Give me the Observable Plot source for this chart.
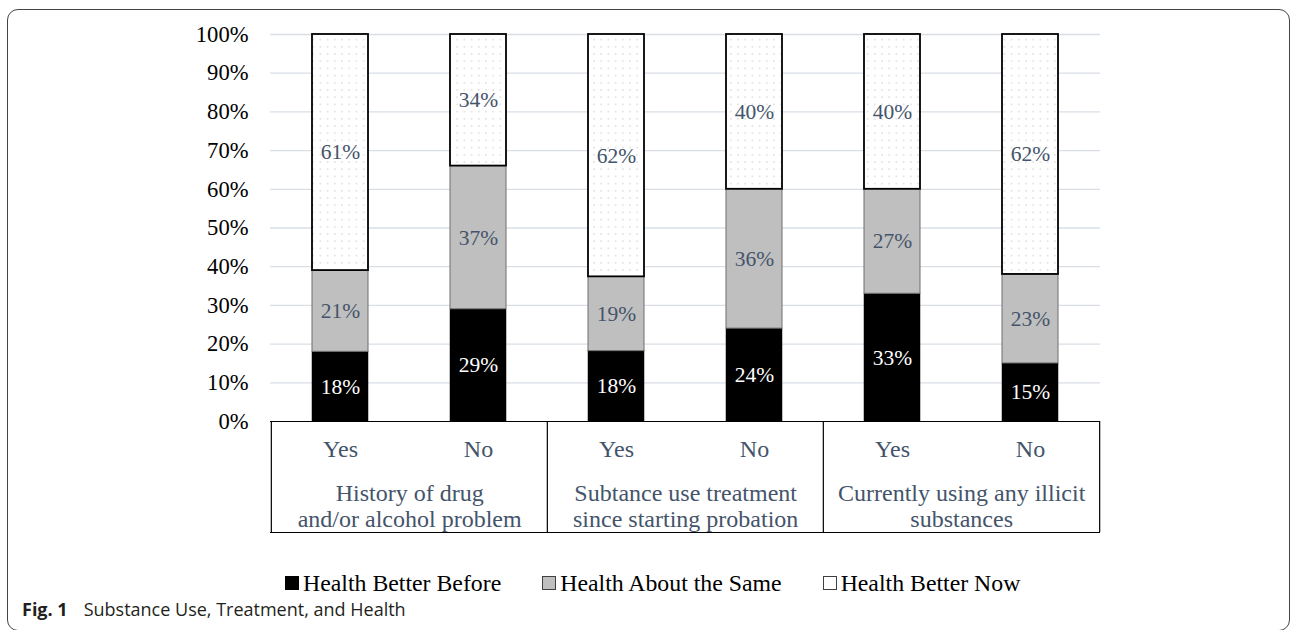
<!DOCTYPE html>
<html>
<head>
<meta charset="utf-8">
<script src="https://cdn.jsdelivr.net/npm/d3@7"></script>
<script src="https://cdn.jsdelivr.net/npm/@observablehq/plot@0.6"></script>
<style>
  html, body { margin: 0; padding: 0; background: #fff; }
  body { width: 1292px; height: 630px; overflow: hidden; position: relative; }
  #frame { position: absolute; left: 7px; top: 9px; width: 1283px; height: 622px; border: 1px solid #444; border-radius: 11px; box-sizing: border-box; }
  #chart { position: absolute; left: 0; top: 0; }
  #legend { position: absolute; left: 285px; top: 571px; display: flex; align-items: center; font-family: "Liberation Serif", "Times New Roman", serif; font-size: 23.8px; line-height: 24px; color: #000; white-space: nowrap; }
  #legend .item { display: flex; align-items: center; margin-right: 41px; }
  #legend .sw { display: inline-block; width: 12px; height: 12px; border: 1px solid #000; margin-right: 4px; box-sizing: content-box; }
  #caption { position: absolute; left: 22px; top: 597px; font-family: "Open Sans", "Noto Sans", sans-serif; font-size: 18px; color: #231f20; white-space: nowrap; }
  #caption b { font-weight: 700; margin-right: 16px; }
</style>
</head>
<body>
<div id="frame"></div>
<div id="chart"></div>
<div id="legend"></div>
<div id="caption"><b>Fig. 1</b>Substance Use, Treatment, and Health</div>
<script>
// ---- data ----
const groupLabels = [
  "History of drug\nand/or alcohol problem",
  "Subtance use treatment\nsince starting probation",
  "Currently using any illicit\nsubstances"
];
const answerLabels = ["Yes", "No"];
const seriesNames = ["Health Better Before", "Health About the Same", "Health Better Now"];
const betterBefore = [18, 29, 18, 24, 33, 15];
const aboutSame    = [21, 37, 19, 36, 27, 23];
const betterNow    = [61, 34, 62, 40, 40, 62];
const seriesValues = [betterBefore, aboutSame, betterNow];

// ---- table for Plot ----
const bars = [];
groupLabels.forEach((g, gi) => answerLabels.forEach((a) => bars.push({key: gi + "|" + a, group: g, answer: a})));
const rows = [];
seriesNames.forEach((s, si) => bars.forEach((b, bi) => rows.push({...b, series: s, value: seriesValues[si][bi]})));
const groupRows = groupLabels.map((g, gi) => ({label: g, first: gi + "|" + answerLabels[0], last: gi + "|" + answerLabels[1]}));

// ---- layout ----
const W = 1292, H = 560, mL = 270, mR = 192, mT = 34, mB = 139;
const step = (W - mL - mR) / bars.length;
const tableDepth = -111 / (H - mT - mB);   // table below the zero line, in y units
const labelColor = "#44546A";
const serif = "'Liberation Serif', 'Times New Roman', serif";

const stackOpts = {x: "key", y: "value", z: "series", offset: "normalize"};
const only = (name, opts) => Plot.filter(d => d.series === name, Plot.stackY({...stackOpts, ...opts}));

const plot = Plot.plot({
  width: W, height: H,
  marginLeft: mL, marginRight: mR, marginTop: mT, marginBottom: mB,
  style: {fontFamily: serif, fontSize: "22.6px", color: "#000", background: "transparent", overflow: "visible"},
  x: {type: "band", domain: bars.map(b => b.key), paddingInner: 0.595, paddingOuter: 0.2975, axis: null},
  y: {domain: [0, 1], ticks: 10, tickFormat: d => Math.round(d * 100) + "%", tickSize: 0, tickPadding: 22, label: null},
  marks: [
    Plot.ruleY(d3.range(1, 11).map(d => d / 10), {stroke: "#D9DEE7", strokeWidth: 1.3}),
    Plot.barY(rows, only(seriesNames[0], {fill: "#000", stroke: "#000", strokeWidth: 0.5})),
    Plot.barY(rows, only(seriesNames[1], {fill: "#BFBFBF", stroke: "#6F6F6F", strokeWidth: 1})),
    Plot.barY(rows, only(seriesNames[2], {fill: "url(#dots)", stroke: "#000", strokeWidth: 1.8})),
    Plot.text(rows, only(seriesNames[0], {text: d => d.value + "%", fill: "#fff", fontSize: 21.5})),
    Plot.text(rows, only(seriesNames[1], {text: d => d.value + "%", fill: labelColor, fontSize: 21.5})),
    Plot.text(rows, only(seriesNames[2], {text: d => d.value + "%", fill: labelColor, fontSize: 21.5})),
    // category table
    Plot.ruleY([0], {stroke: "#000", strokeWidth: 1.2}),
    Plot.ruleY([tableDepth], {stroke: "#000", strokeWidth: 1.2}),
    Plot.ruleX(groupRows, {x: "first", y1: tableDepth, y2: 0, dx: -step / 2, stroke: "#000", strokeWidth: 1.2}),
    Plot.ruleX(groupRows.slice(-1), {x: "last", y1: tableDepth, y2: 0, dx: step / 2, stroke: "#000", strokeWidth: 1.2}),
    Plot.text(bars, {x: "key", text: "answer", frameAnchor: "bottom", lineAnchor: "middle", dy: 28, fill: labelColor, fontSize: 24}),
    Plot.text(groupRows, {x: "first", text: "label", frameAnchor: "bottom", lineAnchor: "middle", dx: step / 2, dy: 84, lineHeight: 1.085, fill: labelColor, fontSize: 24})
  ]
});

// dotted pattern for "Health Better Now"
const svg = d3.select(plot.tagName.toLowerCase() === "svg" ? plot : plot.querySelector("svg"));
const pat = svg.insert("defs", ":first-child").append("pattern")
  .attr("id", "dots").attr("patternUnits", "userSpaceOnUse").attr("width", 7.2).attr("height", 7.2);
pat.append("rect").attr("width", 7.2).attr("height", 7.2).attr("fill", "#fff");
pat.append("circle").attr("cx", 3.6).attr("cy", 3.6).attr("r", 0.75).attr("fill", "#C4C4C4");

document.getElementById("chart").appendChild(plot);

// legend
const swFill = ["#000", "#BFBFBF", "#fff"];
const swStroke = ["#000", "#404040", "#404040"];
const legend = d3.select("#legend");
seriesNames.forEach((s, i) => {
  const it = legend.append("span").attr("class", "item");
  it.append("span").attr("class", "sw").style("background", swFill[i]).style("border-color", swStroke[i]);
  it.append("span").text(s);
});
</script>
</body>
</html>
